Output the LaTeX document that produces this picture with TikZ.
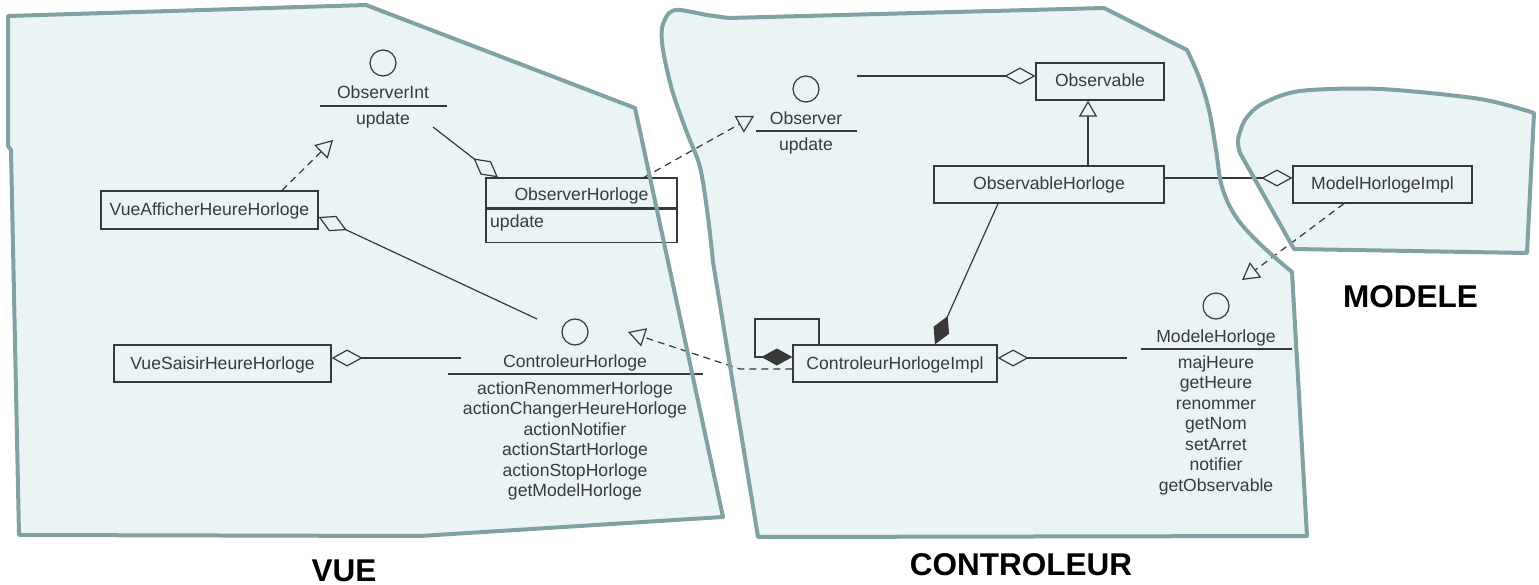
\documentclass[tikz,border=0pt]{standalone}
\usepackage{fontspec}
\setmainfont{Liberation Sans}
\usetikzlibrary{arrows.meta}

\definecolor{zonefill}{HTML}{EAF4F5}
\definecolor{zoneline}{HTML}{82A1A3}
\definecolor{umlink}{HTML}{383838}
\definecolor{umltext}{HTML}{3A3A3A}

% outlines of the three package zones
\newcommand\vuezone{(8,16) -- (366,5) -- (635,108) -- (723,517) -- (420,536) -- (19,535) -- (11,150) -- (8,146) -- cycle}
\newcommand\ctrlzone{(758,537) -- (1307,536) -- (1292,272)
  -- plot[smooth, tension=0.6] coordinates {(1286,267) (1259,243) (1236,217) (1222,187) (1216,150) (1209,110) (1199,77) (1187,50)}
  -- (1104,8) -- (729,18)
  -- plot[smooth] coordinates {(729,18) (707,15) (680,10) (669,13) (662,28) (663,50) (672,90) (687,133) (700,167) (708,217) (713,262)}
  -- cycle}
\newcommand\modzone{(1294,249) -- (1527,253) -- (1534,113)
  -- plot[smooth] coordinates {(1534,113) (1480,99) (1380,89) (1300,91) (1262,104) (1245,120) (1238,140) (1240,153)}
  -- cycle}

\tikzset{
  umlfont/.style={font=\fontsize{17.6}{20.5}\selectfont},
  cls/.style={draw=umlink, line width=1.2pt, text=umltext, umlfont, inner sep=0pt, text height=13pt, text depth=2pt},
  lbl/.style={text=umltext, umlfont, inner sep=0pt},
  lolli/.style={circle, draw=umlink, line width=1.2pt, minimum size=26pt, inner sep=0pt},
  link/.style={draw=umlink, line width=1.2pt},
  agg/.style={link, -{Diamond[open, length=31pt, width=17pt]}},
  aggstart/.style={link, {Diamond[open, length=31pt, width=17pt]}-},
  comp/.style={link, -{Diamond[length=31pt, width=17pt, fill=umlink]}},
  real/.style={link, dash pattern=on 7pt off 5pt, -{Triangle[open, length=17pt, width=19pt]}},
  gen/.style={link, -{Triangle[open, length=16pt, width=18pt]}},
  zonelabel/.style={font=\bfseries\fontsize{31.5}{36}\selectfont, inner sep=0pt, text=black},
  zonebg/.style={fill=zonefill},
  zoneedge/.style={draw=zoneline, line width=4pt, line join=round},
}

\begin{document}
\begin{tikzpicture}[x=1pt, y=-1pt]
\useasboundingbox (0,0) rectangle (1539,585);

% zone backgrounds
\fill[zonebg] \vuezone;
\fill[zonebg] \ctrlzone;
\fill[zonebg] \modzone;

% ---- VUE ----
\node[lolli] (oiC) at (383,63) {};
\node[lbl, anchor=base] (oiT) at (383,99) {ObserverInt};
\draw[link] (320,106) -- (447,106);
\node[lbl, anchor=base] (oiM) at (383,125) {update};

\node[cls, minimum width=217pt, minimum height=38pt] (va) at (209.5,210) {VueAfficherHeureHorloge};
\node[cls, minimum width=217pt, minimum height=37pt] (vs) at (222.5,363.5) {VueSaisirHeureHorloge};

\node[cls, minimum width=191pt, minimum height=30pt, text height=16pt, text depth=0pt] (ohH) at (581.5,193) {ObserverHorloge};
\node[cls, minimum width=191pt, minimum height=33pt, anchor=north] (ohB) at (ohH.south) {};
\node[lbl, anchor=base west] (ohU) at (490,228) {update};

\node[lolli] (chC) at (575,332) {};
\node[lbl, anchor=base] (chT) at (575,367) {ControleurHorloge};
\draw[link] (448,374) -- (703,374);
\foreach \m [count=\i] in {actionRenommerHorloge, actionChangerHeureHorloge, actionNotifier, actionStartHorloge, actionStopHorloge, getModelHorloge}
  \node[lbl, anchor=base] (chm\i) at (575,{373.5+20.5*\i}) {\m};

% ---- CONTROLEUR ----
\node[lolli] (obC) at (806,89) {};
\node[lbl, anchor=base] (obT) at (806,125) {Observer};
\draw[link] (756,131) -- (857,131);
\node[lbl, anchor=base] (obM) at (806,151) {update};

\node[cls, minimum width=128pt, minimum height=37pt] (obl) at (1100,81.5) {Observable};
\node[cls, minimum width=230pt, minimum height=37pt] (obh) at (1049,184.5) {ObservableHorloge};
\node[cls, minimum width=204pt, minimum height=37pt] (chi) at (895,363.5) {ControleurHorlogeImpl};

\node[lolli] (mhC) at (1216,306) {};
\node[lbl, anchor=base] (mhT) at (1216,342) {ModeleHorloge};
\draw[link] (1141,349) -- (1292,349);
\foreach \m [count=\i] in {majHeure, getHeure, renommer, getNom, setArret, notifier, getObservable}
  \node[lbl, anchor=base] (mhm\i) at (1216,{347.5+20.5*\i}) {\m};

% ---- MODELE ----
\node[cls, minimum width=179pt, minimum height=37pt] (mhi) at (1382.5,184.5) {ModelHorlogeImpl};

% free ends of the connectors
\coordinate (vaTip) at (333,140);
\coordinate (oiFoot) at (433,127);
\coordinate (chTop) at (537,319);
\coordinate (chLeft) at (461,358);
\coordinate (obTip) at (754,116);
\coordinate (obRight) at (857,76);
\coordinate (mhTip) at (1242,280);
\coordinate (loopCorner) at (755,319);
\coordinate (dashBend) at (740,369);
\coordinate (chTip) at (628,332);
\coordinate (mhLeft) at (1127,358);

% connectors
\draw[real] ([xshift=72.5pt]va.north) -- (vaTip);
\draw[agg] (oiFoot) -- ([xshift=-83.5pt]ohH.north);
\draw[agg] (chTop) -- ([yshift=-7pt]va.east);
\draw[agg] (chLeft) -- ([yshift=5.5pt]vs.east);
\draw[real] ([xshift=62.5pt]ohH.north) -- (obTip);
\draw[agg] (obRight) -- ([yshift=5.5pt]obl.west);
\draw[gen] ([xshift=39pt]obh.north) -- ([xshift=-12pt]obl.south);
\draw[agg] ([yshift=6.5pt]obh.east) -- ([yshift=6.5pt]mhi.west);
\draw[real] ([xshift=-38.5pt]mhi.south) -- (mhTip);
\draw[comp] ([xshift=-51pt]obh.south) -- ([xshift=40pt]chi.north);
\draw[comp] ([xshift=-76pt]chi.north) |- (loopCorner) |- ([yshift=6.5pt]chi.west);
\draw[real] ([yshift=-5.5pt]chi.west) -- (dashBend) -- (chTip);
\draw[aggstart] ([yshift=5.5pt]chi.east) -- (mhLeft);

% zone outlines
\draw[zoneedge] \vuezone;
\draw[zoneedge] \ctrlzone;
\draw[zoneedge] \modzone;

% zone names
\node[zonelabel, anchor=base] (vueL) at (344,581) {VUE};
\node[zonelabel, anchor=base] (ctrlL) at (1021,575) {CONTROLEUR};
\node[zonelabel, anchor=base] (modL) at (1410.5,307) {MODELE};
\end{tikzpicture}
\end{document}
